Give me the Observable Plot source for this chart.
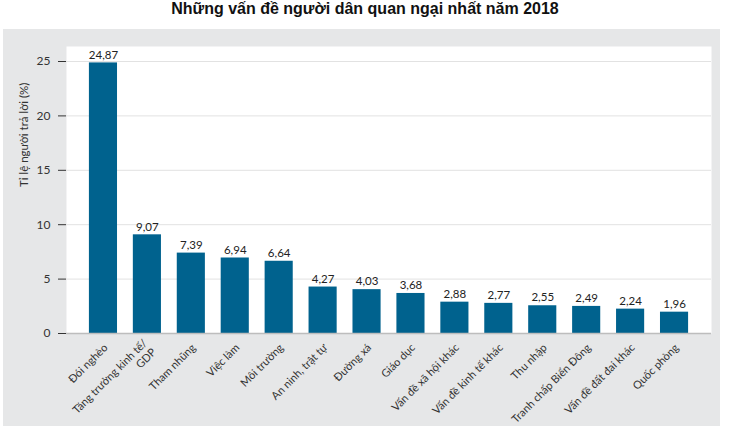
<!DOCTYPE html>
<html>
<head>
<meta charset="utf-8">
<script src="https://cdn.jsdelivr.net/npm/d3@7"></script>
<script src="https://cdn.jsdelivr.net/npm/@observablehq/plot@0.6"></script>
<style>
  body { margin: 0; background: #fff; }
  #title { height: 29px; line-height: 25px; text-align: center; font: bold 16px "Liberation Sans", Arial, sans-serif; color: #111; }
  #panel { margin-left: 3px; width: 717px; height: 397px; background: #e6e7e8; }
</style>
</head>
<body>
<div id="title">Những vấn đề người dân quan ngại nhất năm 2018</div>
<div id="panel"></div>
<script>
const categories = ["Đói nghèo", "Tăng trưởng kinh tế/\nGDP", "Tham nhũng", "Việc làm", "Môi trường", "An ninh, trật tự", "Đường xá", "Giáo dục", "Vấn đề xã hội khác", "Vấn đề kinh tế khác", "Thu nhập", "Tranh chấp Biển Đông", "Vấn đề đất đai khác", "Quốc phòng"];
const values = [24.87, 9.07, 7.39, 6.94, 6.64, 4.27, 4.03, 3.68, 2.88, 2.77, 2.55, 2.49, 2.24, 1.96];
const yTicks = [0, 5, 10, 15, 20, 25];
const yLabel = "Tỉ lệ người trả lời (%)";

const data = categories.map((c, i) => ({ name: c, value: values[i] }));
const fmt = v => v.toFixed(2).replace(".", ",");

const chart = Plot.plot({
  width: 717,
  height: 397,
  marginLeft: 63,
  marginRight: 9,
  marginTop: 17,
  marginBottom: 93,
  style: { background: "transparent", fontFamily: "Lato, 'Open Sans', sans-serif", fontSize: "12px", color: "#333" },
  x: { domain: categories, paddingInner: 0.36, paddingOuter: 0.18, round: false, insetLeft: 15, insetRight: 15, axis: null },
  y: { domain: [0, 25], insetTop: 15, ticks: yTicks, tickSize: 8, tickPadding: 8, label: null },
  marks: [
    Plot.frame({ fill: "white", stroke: "none" }),
    Plot.ruleY(yTicks.filter(t => t > 0), { stroke: "#e2e2e2", strokeWidth: 1 }),
    Plot.barY(data, { x: "name", y: "value", fill: "#00628e" }),
    Plot.ruleY([0], { stroke: "#bdbdbd", strokeWidth: 1.5 }),
    Plot.text(data, { x: "name", y: "value", text: d => fmt(d.value), dy: -8, fontSize: 11.5, fill: "#222" }),
    Plot.text(data, { x: "name", y: () => 0, text: "name", rotate: -45, textAnchor: "end", dy: 12, dx: 2, fontSize: 11, fill: "#333", lineHeight: 1.15 }),
    Plot.text([yLabel], { text: d => d, frameAnchor: "left", rotate: -90, dx: -42, dy: -3, fontSize: 11.5, fill: "#333" })
  ]
});
document.getElementById("panel").appendChild(chart);
</script>
</body>
</html>
